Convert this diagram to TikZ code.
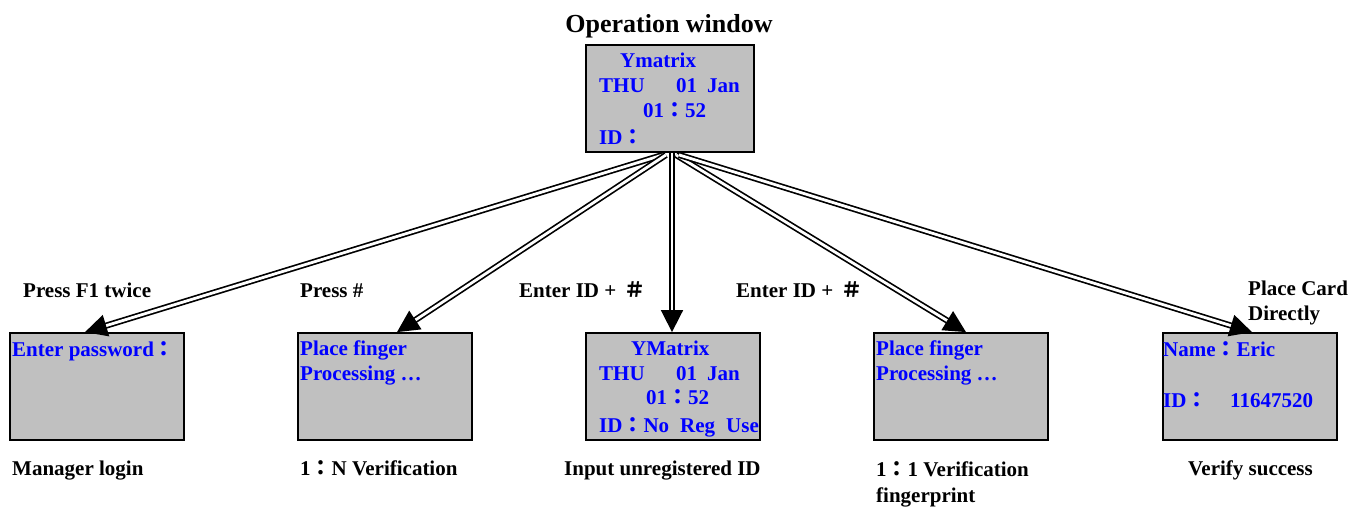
\documentclass[tikz,border=0pt]{standalone}
\usepackage{fontspec}
\setmainfont{Liberation Serif}
\newfontfamily\cjk{Noto Sans CJK TC}
\usetikzlibrary{arrows.meta}
\newcommand{\fc}{{\cjk ：}}
\newcommand{\fh}{{\cjk ＃}}
\definecolor{scrgray}{HTML}{C0C0C0}
\definecolor{scrblue}{HTML}{0000FF}
\begin{document}
\begin{tikzpicture}[x=1pt,y=-1pt,
  font=\fontsize{21}{26}\selectfont\bfseries,
  screen/.style={draw=black, line width=1.8pt, fill=scrgray, minimum width=174pt, minimum height=107pt, inner sep=0pt},
  bt/.style={text=scrblue, inner sep=0pt, anchor=base west},
  lbl/.style={text=black, inner sep=0pt, anchor=base west},
  flow/.style={draw=black, double=white, double distance=2.8pt, line width=1.7pt, -{Triangle[length=22pt,width=22pt]}}]
\useasboundingbox (0,0) rectangle (1352,507);

\node[inner sep=0pt, anchor=base, font=\fontsize{26}{30}\selectfont\bfseries] (title) at (669,32) {Operation window};

% screens
\node[screen, minimum width=168pt] (top) at (670,98.5) {};
\node[screen] (b1) at (97,386.5) {};
\node[screen] (b2) at (385,386.5) {};
\node[screen] (b3) at (673,386.5) {};
\node[screen] (b4) at (961,386.5) {};
\node[screen] (b5) at (1250,386.5) {};

% top screen text
\node[bt] (t1) at (620,67) {Ymatrix};
\node[bt] (t2) at (599,92) {THU};
\node[bt] (t3) at (676,92) {01};
\node[bt] (t4) at (707,92) {Jan};
\node[bt] (t5) at (643,117) {01\fc52};
\node[bt] (t6) at (599,144) {ID\fc};

% screen texts
\node[bt] (s1) at (12,356) {Enter password\fc};
\node[bt] (s2a) at (300,355) {Place finger};
\node[bt] (s2b) at (300,380) {Processing …};
\node[bt] (s3a) at (631,355) {YMatrix};
\node[bt] (s3b) at (599,380) {THU};
\node[bt] (s3c) at (676,380) {01};
\node[bt] (s3d) at (707,380) {Jan};
\node[bt] (s3e) at (646,404) {01\fc52};
\node[bt] (s3f) at (599,432) {ID\fc No};
\node[bt] (s3g) at (680,432) {Reg};
\node[bt] (s3h) at (726,432) {Use};
\node[bt] (s4a) at (876,355) {Place finger};
\node[bt] (s4b) at (876,380) {Processing …};
\node[bt] (s5a) at (1163,356) {Name\fc Eric};
\node[bt] (s5b) at (1163,407) {ID\fc};
\node[bt] (s5c) at (1230,407) {11647520};

% action labels
\node[lbl] (a1) at (23,297) {Press F1 twice};
\node[lbl] (a2) at (300,297) {Press \#};
\node[lbl] (a3) at (519,297) {Enter ID +\hspace{8pt}\fh};
\node[lbl] (a4) at (736,297) {Enter ID +\hspace{8pt}\fh};
\node[lbl] (a5a) at (1248,295) {Place Card};
\node[lbl] (a5b) at (1248,320) {Directly};

% captions
\node[lbl] (c1) at (12,475) {Manager login};
\node[lbl] (c2) at (300,475) {1\fc N Verification};
\node[lbl] (c3) at (564,475) {Input unregistered ID};
\node[lbl] (c4a) at (876,476) {1\fc 1 Verification};
\node[lbl] (c4b) at (876,502) {fingerprint};
\node[lbl] (c5) at (1188,475) {Verify success};

% connectors
\draw[flow] ([xshift=-7pt,yshift=-2pt]top.south) -- ([xshift=-12pt]b1.north);
\draw[flow] ([xshift=-4pt,yshift=-2pt]top.south) -- ([xshift=12pt]b2.north);
\draw[flow] ([xshift=2pt]top.south) -- ([xshift=-1pt]b3.north);
\draw[flow] ([xshift=6pt,yshift=-2pt]top.south) -- ([xshift=5pt]b4.north);
\draw[flow] ([xshift=9pt,yshift=-2pt]top.south) -- ([xshift=2pt]b5.north);
\end{tikzpicture}
\end{document}
